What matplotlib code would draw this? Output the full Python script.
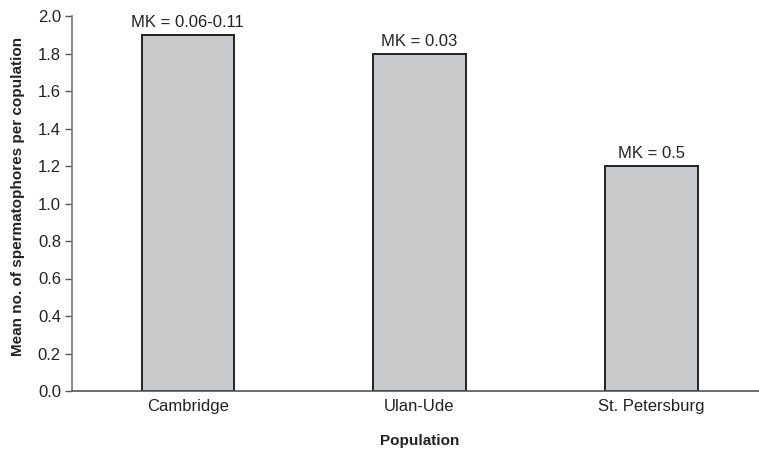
import matplotlib.pyplot as plt
import numpy as np

plt.rcParams['font.family'] = ['Liberation Sans', 'DejaVu Sans']

# Data
populations = ['Cambridge', 'Ulan-Ude', 'St. Petersburg']
mean_spermatophores = [1.9, 1.8, 1.2]
mk_labels = ['MK = 0.06-0.11', 'MK = 0.03', 'MK = 0.5']
y_ticks = [0.0, 0.2, 0.4, 0.6, 0.8, 1.0, 1.2, 1.4, 1.6, 1.8, 2.0]

fig = plt.figure(figsize=(7.59, 4.55), dpi=100)
ax = fig.add_axes([72 / 759, 64 / 455, 695 / 759, 375 / 455])

x = np.arange(len(populations))
bars = ax.bar(x, mean_spermatophores, width=0.4, color='#c8c9cb',
              edgecolor='#222222', linewidth=1.4)

# MK annotations above each bar
for xi, val, lab in zip(x, mean_spermatophores, mk_labels):
    ax.text(xi, val + 0.025, lab, ha='center', va='bottom', fontsize=12, color='#222222')

ax.set_xlim(-0.5, 2.5)
ax.set_ylim(0, 2.0)
ax.set_yticks(y_ticks)
ax.set_yticklabels([f'{t:.1f}' for t in y_ticks], fontsize=12, color='#222222')
ax.set_xticks(x)
ax.set_xticklabels(populations, fontsize=12, color='#222222')
ax.tick_params(axis='x', length=0, pad=6)
ax.tick_params(axis='y', length=5, width=1, color='#555555', pad=3)

ax.spines['top'].set_visible(False)
ax.spines['right'].set_visible(False)
ax.spines['left'].set_color('#777777')
ax.spines['bottom'].set_color('#555555')
ax.spines['left'].set_linewidth(1.2)
ax.spines['bottom'].set_linewidth(1.2)

ax.set_xlabel('Population', fontsize=11, fontweight='bold', labelpad=14, color='#222222')
ax.set_ylabel('Mean no. of spermatophores per copulation', fontsize=11,
              fontweight='bold', color='#222222')
ax.yaxis.set_label_coords(-0.068, 0.52)

fig.savefig('out.png', dpi=100)
